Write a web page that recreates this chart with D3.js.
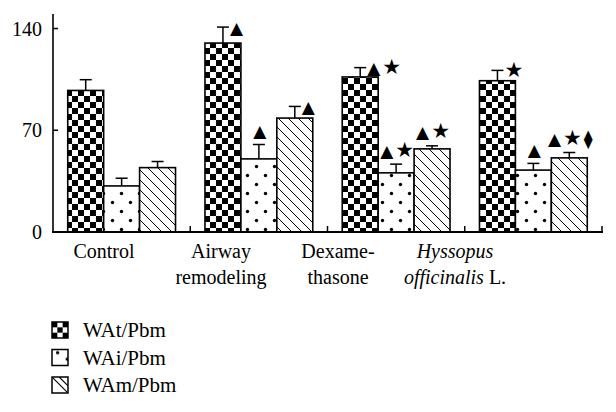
<!DOCTYPE html>
<html><head><meta charset="utf-8">
<script src="https://cdn.jsdelivr.net/npm/d3@7"></script>
<style>
html,body{margin:0;padding:0;background:#fff;}
svg{display:block;}
</style></head>
<body>
<script>
// ---- data ----
const groups = ["Control", "Airway remodeling", "Dexamethasone", "Hyssopus officinalis L."];
const series = ["WAt/Pbm", "WAi/Pbm", "WAm/Pbm"];
const valuesWAt = [97.4, 130.0, 106.7, 104.1];
const errorsWAt = [7.4, 11.0, 6.4, 7.1];
const valuesWAi = [31.7, 50.3, 40.7, 42.6];
const errorsWAi = [5.3, 9.9, 6.0, 4.6];
const valuesWAm = [44.3, 78.4, 57.2, 51.0];
const errorsWAm = [4.2, 8.0, 2.1, 3.7];
const marksWAt = ["", "▲", "▲★", "★"];
const marksWAi = ["", "▲", "▲★", "▲"];
const marksWAm = ["", "▲", "▲★", "▲★⧫"];
const markSideWAt = ["", "right", "right", "right"];
const markSideWAi = ["", "above", "above", "above"];
const markSideWAm = ["", "right", "above", "above"];
const yTicks = [0, 70, 140];

const W = 616, H = 412;
const svg = d3.select("body").append("svg").attr("width", W).attr("height", H);
const defs = svg.append("defs");

// patterns
const pc = defs.append("pattern").attr("id", "checker").attr("patternUnits", "userSpaceOnUse")
  .attr("width", 12).attr("height", 12);
pc.append("rect").attr("width", 12).attr("height", 12).attr("fill", "#fff");
pc.append("rect").attr("width", 6).attr("height", 6).attr("fill", "#000");
pc.append("rect").attr("x", 6).attr("y", 6).attr("width", 6).attr("height", 6).attr("fill", "#000");

const pd = defs.append("pattern").attr("id", "dots").attr("patternUnits", "userSpaceOnUse")
  .attr("width", 18).attr("height", 18);
pd.append("rect").attr("width", 18).attr("height", 18).attr("fill", "#fff");
pd.append("circle").attr("cx", 4.5).attr("cy", 4.5).attr("r", 1.7).attr("fill", "#000");
pd.append("circle").attr("cx", 13.5).attr("cy", 13.5).attr("r", 1.7).attr("fill", "#000");

const ph = defs.append("pattern").attr("id", "hatch").attr("patternUnits", "userSpaceOnUse")
  .attr("width", 10).attr("height", 10);
ph.append("rect").attr("width", 10).attr("height", 10).attr("fill", "#fff");
ph.append("path").attr("d", "M-1,-1 L11,11 M-1,9 L1,11 M9,-1 L11,1").attr("stroke", "#000").attr("stroke-width", 1);

// legend patterns
const lc = defs.append("pattern").attr("id", "lchecker").attr("patternUnits", "objectBoundingBox")
  .attr("patternContentUnits", "objectBoundingBox").attr("width", 1).attr("height", 1);
lc.append("rect").attr("width", 1).attr("height", 1).attr("fill", "#fff");
for (let i = 0; i < 3; i++) for (let j = 0; j < 3; j++) if ((i + j) % 2 === 0)
  lc.append("rect").attr("x", i / 3).attr("y", j / 3).attr("width", 1 / 3).attr("height", 1 / 3).attr("fill", "#000");
const ld = defs.append("pattern").attr("id", "ldots").attr("patternUnits", "objectBoundingBox")
  .attr("patternContentUnits", "objectBoundingBox").attr("width", 1).attr("height", 1);
ld.append("rect").attr("width", 1).attr("height", 1).attr("fill", "#fff");
ld.append("circle").attr("cx", 0.35).attr("cy", 0.2).attr("r", 0.1).attr("fill", "#000");
ld.append("circle").attr("cx", 0.95).attr("cy", 0.6).attr("r", 0.1).attr("fill", "#000");
const lh = defs.append("pattern").attr("id", "lhatch").attr("patternUnits", "objectBoundingBox")
  .attr("patternContentUnits", "objectBoundingBox").attr("width", 1).attr("height", 1);
lh.append("rect").attr("width", 1).attr("height", 1).attr("fill", "#fff");
lh.append("path").attr("d", "M0,0 L1,1 M0.45,0 L1,0.55").attr("stroke", "#000").attr("stroke-width", 0.07);

const fills = ["url(#checker)", "url(#dots)", "url(#hatch)"];
const legendFills = ["url(#lchecker)", "url(#ldots)", "url(#lhatch)"];

const values = [valuesWAt, valuesWAi, valuesWAm];
const errors = [errorsWAt, errorsWAi, errorsWAm];
const marks = [marksWAt, marksWAi, marksWAm];
const sides = [markSideWAt, markSideWAi, markSideWAm];

// scales
const x0 = d3.scaleBand().domain(groups).range([53, 602]).paddingInner(0).paddingOuter(0);
const x1 = d3.scaleBand().domain(series).range([0, x0.bandwidth()]).paddingInner(0).paddingOuter(0.41);
const y = d3.scaleLinear().domain([0, 150]).range([232, 14]);
const labelX = d3.scalePoint().domain(groups).range([104, 455]);

const data = [];
groups.forEach((g, gi) => series.forEach((s, si) => data.push({
  g, s, si, v: values[si][gi], e: errors[si][gi], m: marks[si][gi], side: sides[si][gi]
})));

// bars
const barG = svg.append("g");
barG.selectAll("rect").data(data).join("rect")
  .attr("x", d => x0(d.g) + x1(d.s))
  .attr("y", d => y(d.v))
  .attr("width", x1.bandwidth())
  .attr("height", d => y(0) - y(d.v))
  .attr("fill", d => fills[d.si])
  .attr("stroke", "#000").attr("stroke-width", 1.6);

// error bars
const errG = svg.append("g").attr("stroke", "#000").attr("stroke-width", 1.5).attr("fill", "none");
data.forEach(d => {
  const cx = x0(d.g) + x1(d.s) + x1.bandwidth() / 2;
  errG.append("line").attr("x1", cx).attr("x2", cx).attr("y1", y(d.v)).attr("y2", y(d.v + d.e));
  errG.append("line").attr("x1", cx - 6).attr("x2", cx + 6).attr("y1", y(d.v + d.e)).attr("y2", y(d.v + d.e));
});

// significance marks
const symSize = { "▲": 17, "★": 21, "⧫": 18 };
const mt = svg.append("g").selectAll("text").data(data.filter(d => d.m)).join("text")
  .attr("x", d => {
    const cx = x0(d.g) + x1(d.s) + x1.bandwidth() / 2;
    return d.side === "right" ? cx + 7 : cx + 1;
  })
  .attr("y", d => d.side === "right" ? y(d.v + d.e) + 6.5 : y(d.v + d.e) - 7.5)
  .attr("text-anchor", d => d.side === "right" ? "start" : "middle")
  .attr("font-family", "DejaVu Sans")
  .attr("fill", "#000");
mt.each(function (d) {
  const t = d3.select(this);
  Array.from(d.m).forEach((c, i) => {
    t.append("tspan").attr("font-size", symSize[c] || 16).attr("dx", i ? 2 : 0).text(c);
  });
});

// axes
const axG = svg.append("g").attr("stroke", "#000").attr("fill", "none");
axG.append("line").attr("x1", 53).attr("x2", 53).attr("y1", 14).attr("y2", y(0) + 1).attr("stroke-width", 1.6);
axG.append("line").attr("x1", 52).attr("x2", 603).attr("y1", y(0)).attr("y2", y(0)).attr("stroke-width", 2);
yTicks.filter(t => t > 0).forEach(t => {
  axG.append("line").attr("x1", 53).attr("x2", 58).attr("y1", y(t)).attr("y2", y(t)).attr("stroke-width", 1.5);
});
groups.forEach(g => {
  const xe = x0(g) + x0.bandwidth();
  axG.append("line").attr("x1", xe).attr("x2", xe).attr("y1", y(0)).attr("y2", y(0) - 6).attr("stroke-width", 1.5);
});

// tick labels
svg.append("g").selectAll("text").data(yTicks).join("text")
  .attr("x", 42).attr("y", d => y(d)).attr("dy", "0.35em")
  .attr("text-anchor", "end")
  .attr("font-family", "Liberation Serif").attr("font-size", 20).attr("fill", "#000")
  .text(d => d);

// category labels
const catLines = {
  "Control": [[["Control", false]]],
  "Airway remodeling": [[["Airway", false]], [["remodeling", false]]],
  "Dexamethasone": [[["Dexame-", false]], [["thasone", false]]],
  "Hyssopus officinalis L.": [[["Hyssopus", true]], [["officinalis", true], [" L.", false]]]
};
const catG = svg.append("g").attr("font-family", "Liberation Serif").attr("font-size", 20).attr("fill", "#000");
groups.forEach(g => {
  catLines[g].forEach((line, li) => {
    const t = catG.append("text").attr("x", labelX(g)).attr("y", 258 + li * 26).attr("text-anchor", "middle");
    line.forEach(([s, it]) => t.append("tspan").attr("font-style", it ? "italic" : "normal").text(s));
  });
});

// legend
const lg = svg.append("g");
series.forEach((s, i) => {
  const yy = 322 + i * 27.5;
  lg.append("rect").attr("x", 52).attr("y", yy).attr("width", 16).attr("height", 16)
    .attr("fill", legendFills[i]).attr("stroke", "#000").attr("stroke-width", 1.5);
  lg.append("text").attr("x", 83).attr("y", yy + 15)
    .attr("font-family", "Liberation Serif").attr("font-size", 21).attr("fill", "#000").text(s);
});
</script>
</body></html>
